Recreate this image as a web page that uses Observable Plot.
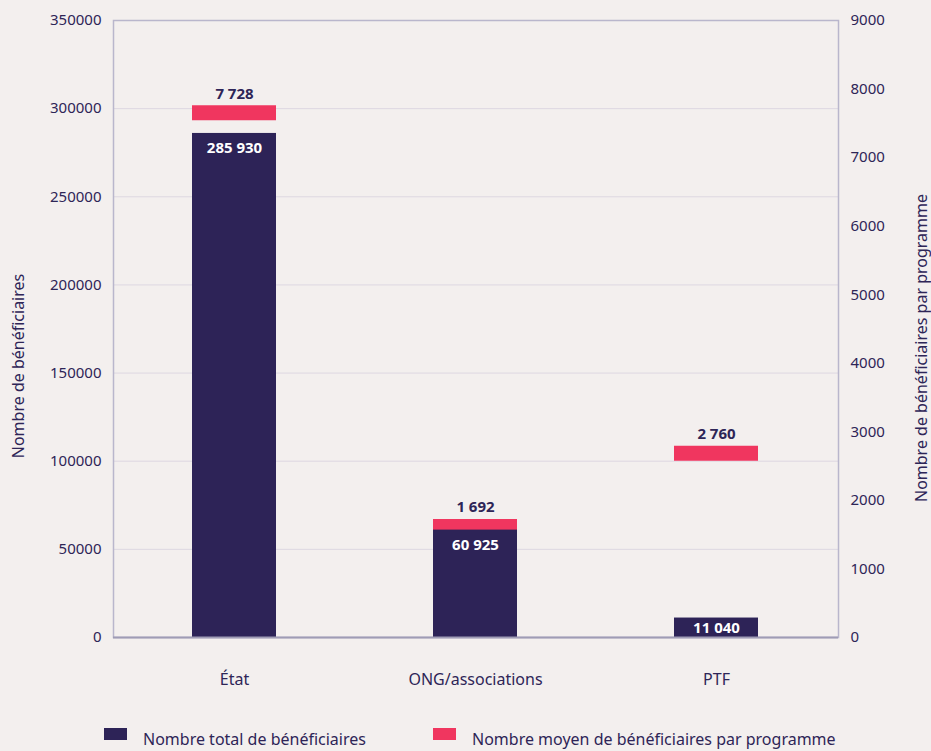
<!DOCTYPE html>
<html><head><meta charset="utf-8">
<script src="https://cdn.jsdelivr.net/npm/d3@7"></script>
<script src="https://cdn.jsdelivr.net/npm/@observablehq/plot@0.6"></script>
<style>
body{margin:0;background:#f3efee;font-family:"Noto Sans",sans-serif;}
#wrap{position:relative;width:931px;height:751px;overflow:hidden;background:#f3efee;}
.sw{position:absolute;width:23px;height:12px;}
.lt{position:absolute;font-size:16px;color:#2e2557;white-space:nowrap;line-height:17px;}
</style></head><body>
<div id="wrap"><div id="chart"></div>
<div id="legend"></div>
</div>
<script>
const categories = ["État", "ONG/associations", "PTF"];
const totals = [285930, 60925, 11040];
const averages = [7728, 1692, 2760];
const leftTicks = [0, 50000, 100000, 150000, 200000, 250000, 300000, 350000];
const rightTicks = [0, 1000, 2000, 3000, 4000, 5000, 6000, 7000, 8000, 9000];
const seriesNames = ["Nombre total de bénéficiaires", "Nombre moyen de bénéficiaires par programme"];
const axisLabels = ["Nombre de bénéficiaires", "Nombre de bénéficiaires par programme"];
const colors = ["#2d2357", "#f0365f"];

const LEFT_MAX = 350000, RIGHT_MAX = 9000;
const k = LEFT_MAX / RIGHT_MAX;
const data = categories.map((c, i) => ({cat: c, total: totals[i], avg: averages[i], avgL: averages[i] * k}));
const fmt = d3.formatLocale({thousands: " ", grouping: [3], decimal: ",", currency: ["", " €"]}).format(",d");
const ink = "#2e2557";

const chart = Plot.plot({
  width: 931, height: 700,
  marginTop: 20, marginBottom: 63, marginLeft: 113, marginRight: 93,
  style: {background: "transparent", fontFamily: "'Noto Sans', sans-serif", fontSize: "15px", color: ink},
  x: {domain: categories, paddingInner: 0.65, paddingOuter: 0.325, label: null},
  y: {domain: [0, LEFT_MAX], label: null},
  marks: [
    Plot.gridY(leftTicks, {stroke: "#ddd7e1", strokeOpacity: 1}),
    Plot.frame({stroke: "#b9b6cc", strokeWidth: 1.5}),
    Plot.axisY({ticks: leftTicks, tickSize: 0, tickPadding: 12, tickFormat: d => String(d), label: null, fill: ink}),
    Plot.axisY({anchor: "right", ticks: rightTicks.map(v => v * k), tickSize: 0, tickPadding: 12,
      tickFormat: d => String(Math.round(d / k)), textAnchor: "start", label: null, fill: ink}),
    Plot.axisX({tickSize: 0, tickPadding: 36, label: null, fill: ink, fontSize: 16}),
    Plot.text([axisLabels[0]], {frameAnchor: "left", textAnchor: "middle", rotate: -90, dx: -95, dy: 37, fill: ink, fontSize: 16}),
    Plot.text([axisLabels[1]], {frameAnchor: "right", textAnchor: "middle", rotate: -90, dx: 83, dy: 19, fill: ink, fontSize: 16}),
    Plot.tickY(data, {x: "cat", y: "avgL", stroke: colors[1], strokeWidth: 15, dy: 5}),
    Plot.barY(data, {x: "cat", y: "total", fill: colors[0]}),
    Plot.ruleY([0], {stroke: "#9f9cb5", strokeWidth: 2}),
    Plot.text(data, {x: "cat", y: "avgL", text: d => fmt(d.avg), dy: -14, fill: ink, fontWeight: 700, fontSize: 15}),
    Plot.text(data.filter(d => d.total >= 30000), {x: "cat", y: "total", text: d => fmt(d.total), dy: 15, fill: "white", fontWeight: 700, fontSize: 15}),
    Plot.text(data.filter(d => d.total < 30000), {x: "cat", y: d => d.total / 2, text: d => fmt(d.total), fill: "white", fontWeight: 700, fontSize: 15})
  ]
});
document.getElementById("chart").appendChild(chart);

const legend = document.getElementById("legend");
const legPos = [[104, 143], [433, 472]];
seriesNames.forEach((n, i) => {
  const s = document.createElement("div");
  s.className = "sw"; s.style.left = legPos[i][0] + "px"; s.style.top = "728px"; s.style.background = colors[i];
  const t = document.createElement("div");
  t.className = "lt"; t.style.left = legPos[i][1] + "px"; t.style.top = "731px"; t.textContent = n;
  legend.appendChild(s); legend.appendChild(t);
});
</script>
</body></html>
